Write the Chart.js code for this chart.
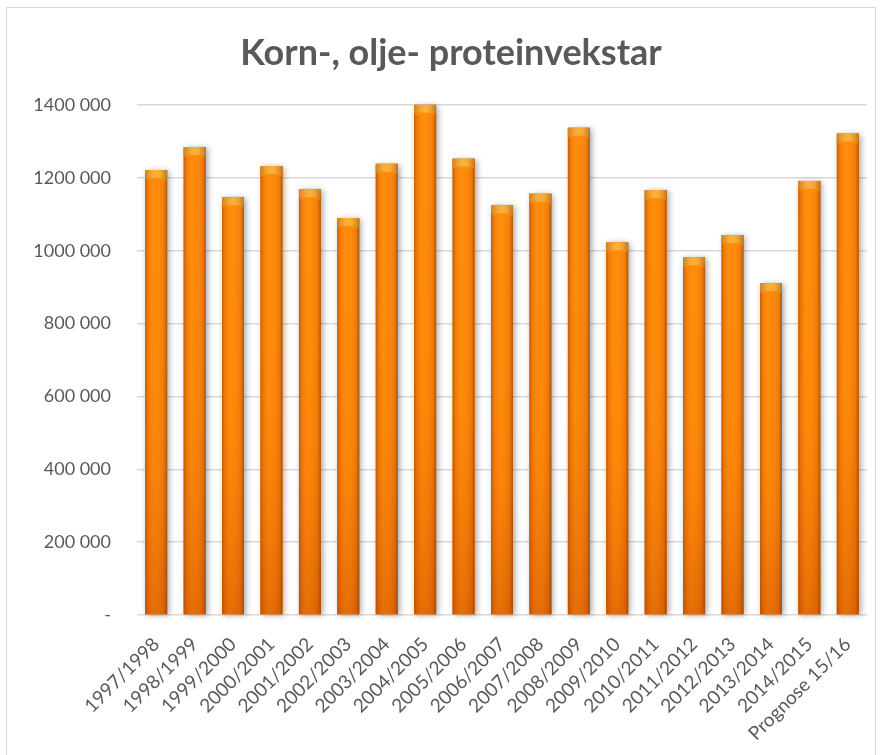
<!DOCTYPE html>
<html>
<head>
<meta charset="utf-8">
<script src="https://cdn.jsdelivr.net/npm/chart.js@4/dist/chart.umd.min.js"></script>
<style>
  html, body { margin:0; padding:0; background:#fff; overflow:hidden; width:880px; height:755px; }
  #frame { position:absolute; left:6px; top:7px; width:870px; height:800px; border:1px solid #D9D9D9; box-sizing:border-box; }
  #wrap { position:absolute; left:0; top:0; width:880px; height:755px; }
</style>
</head>
<body>
<div id="frame"></div>
<div id="wrap"><canvas id="c" width="880" height="755"></canvas></div>
<script>
const chartTitle = 'Korn-, olje- proteinvekstar';
const categories = ['1997/1998','1998/1999','1999/2000','2000/2001','2001/2002','2002/2003','2003/2004','2004/2005','2005/2006','2006/2007','2007/2008','2008/2009','2009/2010','2010/2011','2011/2012','2012/2013','2013/2014','2014/2015','Prognose 15/16'];
const values = [1222000,1285000,1147000,1233000,1169000,1090000,1239000,1401000,1253000,1125000,1157000,1338000,1023000,1167000,982000,1043000,911000,1192000,1322000];
const yMin = 0, yMax = 1400000, yStep = 200000;

function fmt(v){
  if (v === 0) return '-';
  const th = Math.floor(v/1000), rest = v % 1000;
  return th + ' ' + String(rest).padStart(3,'0');
}

const barShadow = {
  id:'barShadow',
  beforeDatasetsDraw(chart){
    const ctx = chart.ctx;
    chart.getDatasetMeta(0).data.forEach(bar=>{
      const p = bar.getProps(['x','y','base','width'], true);
      ctx.save();
      ctx.shadowColor = 'rgba(0,0,0,0.35)';
      ctx.shadowBlur = 6;
      ctx.shadowOffsetX = 2;
      ctx.shadowOffsetY = 1;
      ctx.fillStyle = '#E87510';
      ctx.fillRect(p.x - p.width/2, p.y, p.width, p.base - p.y);
      ctx.restore();
    });
  }
};

const barBevel = {
  id:'barBevel',
  afterDatasetsDraw(chart){
    const ctx = chart.ctx;
    chart.getDatasetMeta(0).data.forEach(bar=>{
      const p = bar.getProps(['x','y','base','width'], true);
      const l = p.x - p.width/2, w = p.width, t = p.y, h = p.base - p.y;
      ctx.save();
      let gv = ctx.createLinearGradient(0, t, 0, p.base);
      gv.addColorStop(0, 'rgba(255,140,0,0)');
      gv.addColorStop(0.55, 'rgba(240,110,0,0.15)');
      gv.addColorStop(1, 'rgba(205,80,0,0.6)');
      ctx.fillStyle = gv;
      ctx.fillRect(l, t, w, h);
      let gh = ctx.createLinearGradient(l, 0, l + w, 0);
      gh.addColorStop(0, 'rgba(140,60,10,0.55)');
      gh.addColorStop(0.15, 'rgba(190,80,10,0.2)');
      gh.addColorStop(0.35, 'rgba(255,150,30,0.15)');
      gh.addColorStop(0.55, 'rgba(255,150,30,0.1)');
      gh.addColorStop(0.85, 'rgba(170,70,10,0.2)');
      gh.addColorStop(1, 'rgba(120,50,10,0.6)');
      ctx.fillStyle = gh;
      ctx.fillRect(l, t, w, h);
      const capH = 8;
      let gc = ctx.createLinearGradient(l, 0, l + w, 0);
      gc.addColorStop(0, '#D08428');
      gc.addColorStop(0.3, '#F5A834');
      gc.addColorStop(0.5, '#F9B23C');
      gc.addColorStop(0.7, '#F5A834');
      gc.addColorStop(1, '#C07A26');
      ctx.fillStyle = gc;
      ctx.fillRect(l, t, w, capH);
      let gcb = ctx.createLinearGradient(0, t + capH - 3, 0, t + capH + 2);
      gcb.addColorStop(0, 'rgba(255,140,10,0)');
      gcb.addColorStop(1, 'rgba(255,140,10,0.9)');
      ctx.fillStyle = gcb;
      ctx.beginPath();
      ctx.ellipse(p.x, t + capH, w*0.5, 3, 0, 0, Math.PI);
      ctx.fill();
      ctx.restore();
    });
  }
};

new Chart(document.getElementById('c'), {
  type:'bar',
  data:{
    labels: categories,
    datasets:[{
      data: values,
      backgroundColor:'#FF8A0A',
      borderWidth:0,
      barPercentage:0.57,
      categoryPercentage:1.0
    }]
  },
  plugins:[barShadow, barBevel],
  options:{
    responsive:false,
    animation:false,
    layout:{ padding:{ left:35, right:13, top:0, bottom:0 } },
    plugins:{
      legend:{ display:false },
      tooltip:{ enabled:false },
      title:{
        display:true,
        text: chartTitle,
        color:'#595959',
        font:{ family:'Lato', size:36, weight:'bold', lineHeight:1.2 },
        padding:{ top:32, bottom:30 }
      }
    },
    scales:{
      x:{
        grid:{ display:false },
        border:{ display:false },
        ticks:{
          color:'#595959',
          font:{ family:'Lato', size:19 },
          minRotation:45, maxRotation:45,
          autoSkip:false,
          padding:10
        },
        afterFit(s){ s.height = 140; }
      },
      y:{
        min:yMin, max:yMax,
        grid:{ color:'#D9D9D9', lineWidth:1.5, drawTicks:false },
        border:{ display:false },
        ticks:{
          stepSize:yStep,
          color:'#595959',
          font:{ family:'Lato', size:18 },
          padding:26,
          callback:(v)=>fmt(v)
        },
        afterFit(s){ s.width = 102; }
      }
    }
  }
});
</script>
</body>
</html>
